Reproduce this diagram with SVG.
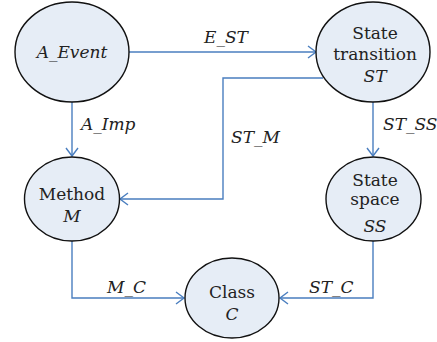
<svg xmlns="http://www.w3.org/2000/svg" width="437" height="342" viewBox="0 0 437 342">
<style>
.n{fill:#e6edf6;stroke:#111;stroke-width:1.4}
text{font-family:"DejaVu Serif",serif;font-size:17px;fill:#222}
.t{text-anchor:middle}
.i{font-style:italic}
.c{fill:none;stroke:#4a7ebf;stroke-width:1.4}
</style>
<defs>
<marker id="a" markerUnits="userSpaceOnUse" markerWidth="12" markerHeight="14" refX="9" refY="7" orient="auto">
<path d="M1,1 L9,7 L1,13" fill="none" stroke="#4a7ebf" stroke-width="1.4"/>
</marker>
</defs>
<g id="connectors">
<path class="c" d="M128,52 H316" marker-end="url(#a)"/>
<path class="c" d="M323,78 H223 V199 H120" marker-end="url(#a)"/>
<path class="c" d="M72,101 V156" marker-end="url(#a)"/>
<path class="c" d="M373,101 V156" marker-end="url(#a)"/>
<path class="c" d="M72,241 V298 H184" marker-end="url(#a)"/>
<path class="c" d="M373,241 V298 H280" marker-end="url(#a)"/>
<text class="i" x="204" y="43">E_ST</text>
<text class="i" x="231" y="143">ST_M</text>
<text class="i" x="81" y="130">A_Imp</text>
<text class="i" x="383" y="130">ST_SS</text>
<text class="i" x="107" y="293">M_C</text>
<text class="i" x="309" y="293">ST_C</text>
</g>
<g id="A_Event">
<ellipse class="n" cx="72" cy="52" rx="57" ry="50"/>
<text class="t i" x="72" y="58">A_Event</text>
</g>
<g id="ST">
<ellipse class="n" cx="373" cy="52" rx="57" ry="50"/>
<text class="t" x="375" y="39">State</text>
<text class="t" x="375" y="60">transition</text>
<text class="t i" x="375" y="82">ST</text>
</g>
<g id="M">
<ellipse class="n" cx="72" cy="199" rx="47.5" ry="42"/>
<text class="t" x="72" y="200">Method</text>
<text class="t i" x="72" y="222">M</text>
</g>
<g id="SS">
<ellipse class="n" cx="373.5" cy="199" rx="47.5" ry="42"/>
<text class="t" x="375" y="186">State</text>
<text class="t" x="375" y="205">space</text>
<text class="t i" x="375" y="232">SS</text>
</g>
<g id="C">
<ellipse class="n" cx="232" cy="298" rx="47" ry="40"/>
<text class="t" x="232" y="298">Class</text>
<text class="t i" x="232" y="320">C</text>
</g>
</svg>
